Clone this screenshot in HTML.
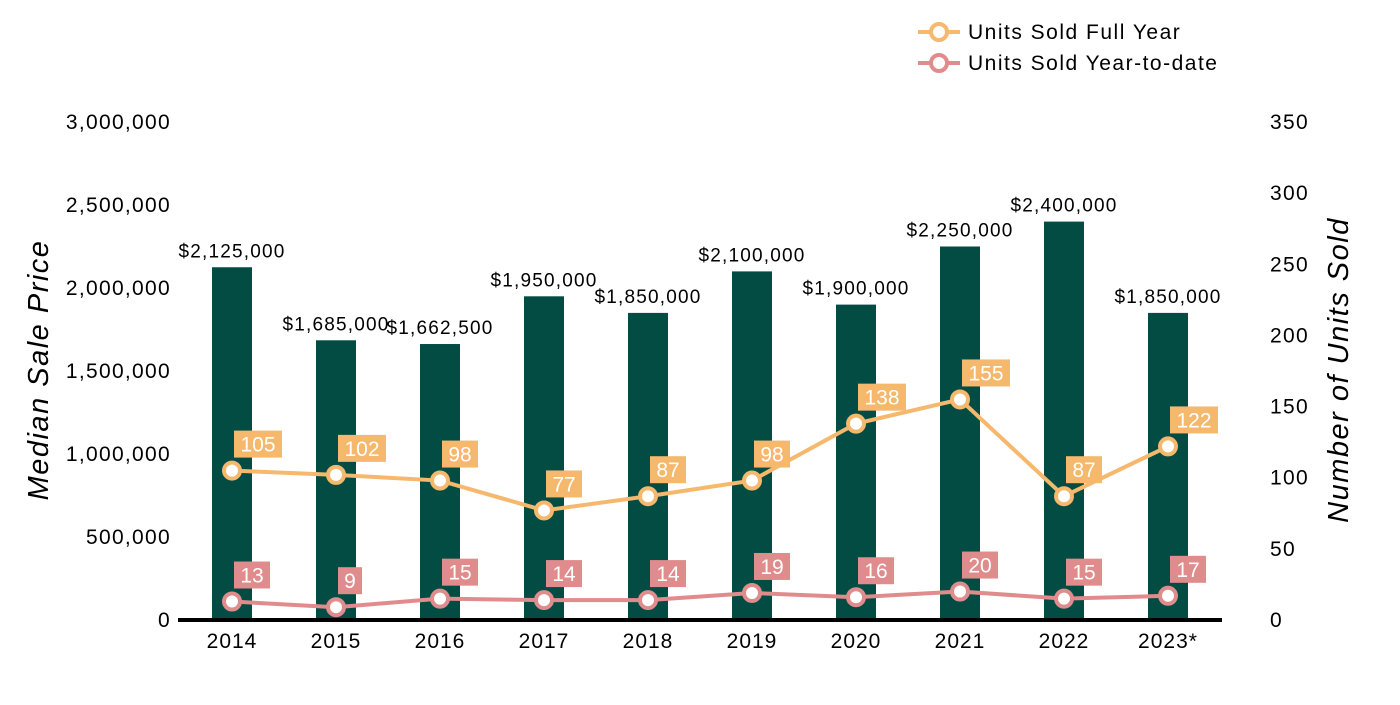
<!DOCTYPE html>
<html><head><meta charset="utf-8"><style>
body{margin:0;background:#fff;}
svg{font-family:"Liberation Sans",Arial,sans-serif;}
</style></head><body>
<svg id="c" width="1400" height="700"></svg>
<script>
const years=["2014","2015","2016","2017","2018","2019","2020","2021","2022","2023*"];
const prices=[2125000,1685000,1662500,1950000,1850000,2100000,1900000,2250000,2400000,1850000];
const fullYear=[105,102,98,77,87,98,138,155,87,122];
const ytd=[13,9,15,14,14,19,16,20,15,17];
const leftTicks=[0,500000,1000000,1500000,2000000,2500000,3000000];
const rightTicks=[0,50,100,150,200,250,300,350];
const NS="http://www.w3.org/2000/svg";
const svg=document.getElementById('c');
const y0=620,yTop=122;
const yL=v=>y0-(v/3000000)*(y0-yTop);
const yR=v=>y0-(v/350)*(y0-yTop);
const xC=i=>232+i*104;
function mk(t,a,txt){const e=document.createElementNS(NS,t);for(const k in a)e.setAttribute(k,a[k]);if(txt!==undefined)e.textContent=txt;svg.appendChild(e);return e;}
const fmt=n=>n.toLocaleString('en-US');
leftTicks.forEach(v=>{const e=mk('text',{x:171,y:yL(v)+7,'text-anchor':'end','font-size':21,'letter-spacing':1.3,fill:'#000'},fmt(v));

});
rightTicks.forEach(v=>{const e=mk('text',{x:1270,y:yR(v)+7,'font-size':21,'letter-spacing':1.3,fill:'#000'},v);

});
let t=mk('text',{x:0,y:0,transform:'translate(48,370) rotate(-90)','text-anchor':'middle','font-size':29,'letter-spacing':1.5,'font-style':'italic',fill:'#000'},'Median Sale Price');

t=mk('text',{x:0,y:0,transform:'translate(1348,370) rotate(-90)','text-anchor':'middle','font-size':29,'letter-spacing':1.5,'font-style':'italic',fill:'#000'},'Number of Units Sold');

prices.forEach((p,i)=>{const b=mk('rect',{x:xC(i)-20,y:yL(p),width:40,height:y0-yL(p),fill:'#034c43'});


const l=mk('text',{x:xC(i),y:yL(p)-10,'text-anchor':'middle','font-size':19,'letter-spacing':1.2,fill:'#000'},'$'+fmt(p));


const x=mk('text',{x:xC(i),y:648,'text-anchor':'middle','font-size':21,'letter-spacing':1,fill:'#000'},years[i]);

});
const base=mk('line',{x1:178,x2:1222,y1:620,y2:620,stroke:'#000','stroke-width':4});

function series(vals,col,name){
const pl=mk('polyline',{points:vals.map((v,i)=>xC(i)+','+yR(v)).join(' '),fill:'none',stroke:col,'stroke-width':4});


vals.forEach((v,i)=>{const c=mk('circle',{cx:xC(i),cy:yR(v),r:8,fill:'#fff',stroke:col,'stroke-width':4});


const s=String(v);const w=s.length*12+12;
const r=mk('rect',{x:xC(i)+2,y:yR(v)-40,width:w,height:27,fill:col});


const tx=mk('text',{x:xC(i)+2+w/2,y:yR(v)-19,'text-anchor':'middle','font-size':21,fill:'#fff'},s);

});}
series(fullYear,'#f5b86c','full-year');
series(ytd,'#e08c8d','ytd');
[['Units Sold Full Year','#f5b86c',32],['Units Sold Year-to-date','#e08c8d',63]].forEach(([n,c,y])=>{
const l=mk('line',{x1:918,x2:960,y1:y,y2:y,stroke:c,'stroke-width':4});

const ci=mk('circle',{cx:939,cy:y,r:8,fill:'#fff',stroke:c,'stroke-width':4});

const tx=mk('text',{x:968,y:y+7,'font-size':21,'letter-spacing':1.5,fill:'#000'},n);
});
</script>
</body></html>
